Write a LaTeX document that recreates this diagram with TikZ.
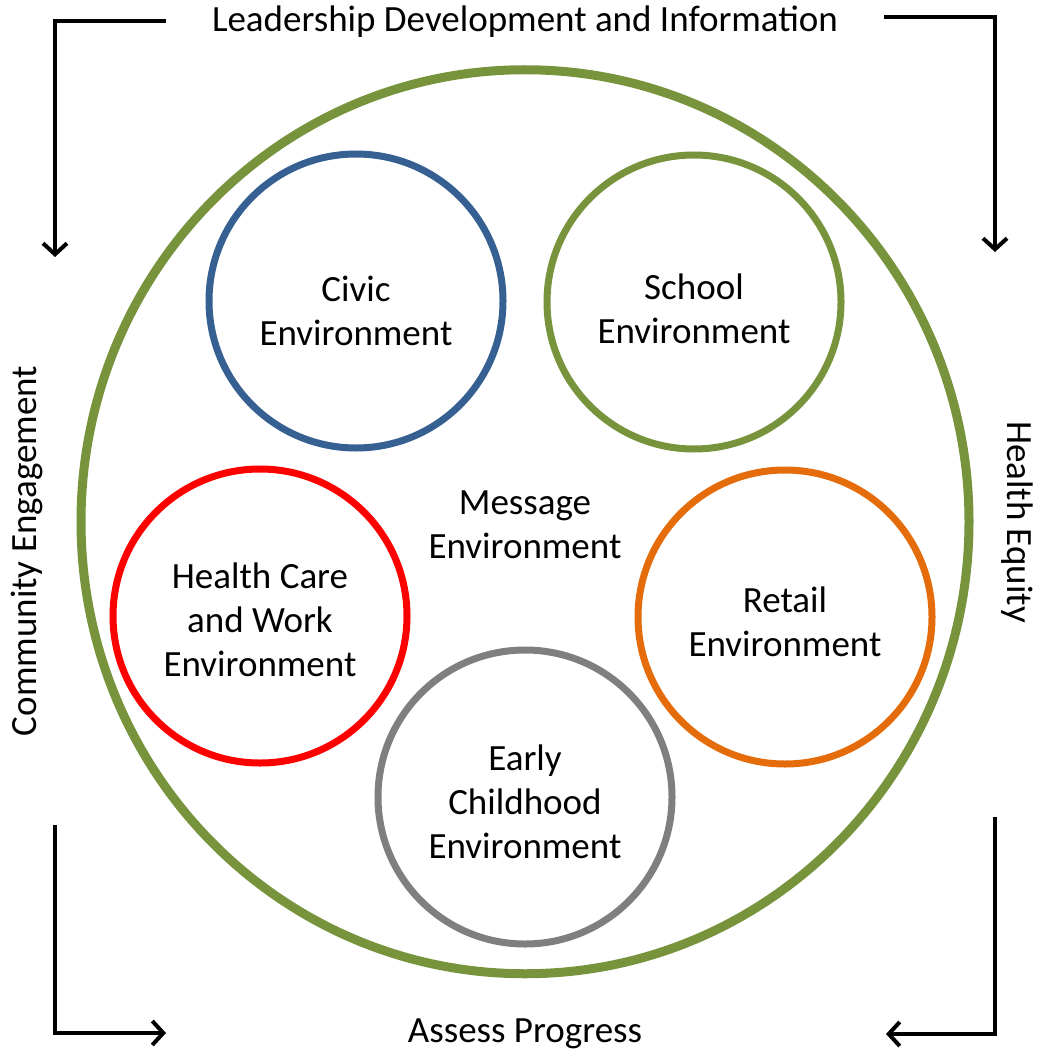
\documentclass[tikz,border=0pt]{standalone}
\usepackage{fontspec}
\setmainfont{Carlito}
\usetikzlibrary{arrows.meta}

\definecolor{ringgreen}{RGB}{119,147,60}
\definecolor{civicblue}{RGB}{55,96,146}
\definecolor{retailorange}{RGB}{228,108,10}
\definecolor{earlygray}{RGB}{127,127,127}

\tikzset{
  envtext/.style={font=\fontsize{37}{44}\selectfont, align=center},
  envring/.style={circle, draw, line width=7pt, minimum size=294pt, inner sep=0pt},
  flow/.style={line width=4pt, -{Straight Barb[length=11pt,width=24pt,line width=4pt]}}
}

\begin{document}
\begin{tikzpicture}[x=1pt,y=-1pt]
                    \useasboundingbox (0,0) rectangle (1048,1051);
                    \draw[draw=ringgreen,line width=9pt] (525,521.75) ellipse (444 and 452);

                    \node[envring,draw=civicblue] (civic) at (356,301) {};
                    \node[envring,draw=ringgreen] (school) at (694,302) {};
                    \node[envring,draw=red] (care) at (260,616) {};
                    \node[envring,draw=retailorange] (retail) at (785,617) {};
                    \node[envring,draw=earlygray] (early) at (525,797) {};
                    \node[envtext] (civic text) at ([yshift=-10pt]civic) {Civic\\Environment};
                    \node[envtext] (school text) at ([yshift=-7pt]school) {School\\Environment};
                    \node[envtext] (care text) at ([yshift=-4pt]care) {Health Care\\and Work\\Environment};
                    \node[envtext] (retail text) at ([yshift=-5pt]retail) {Retail\\Environment};
                    \node[envtext] (early text) at ([yshift=-5pt]early) {Early\\Childhood\\Environment};
                    \node[envtext] (message) at (525,525) {Message\\Environment};

                    \node[envtext,anchor=base] (lead) at (525,32) {Leadership Development and Information};
                    \node[envtext,anchor=base] (assess) at (525,1042) {Assess Progress};
                    \node[envtext,rotate=90] (community) at (27,551) {Community Engagement};
                    \node[envtext,rotate=-90] (equity) at (1017,522) {Health Equity};

                    % corner arrows
                    \coordinate (tl a) at (166,21);
                    \coordinate (tl b) at (55,257);
                    \coordinate (tr a) at (884,17);
                    \coordinate (tr b) at (995,252);
                    \coordinate (bl a) at (55,825);
                    \coordinate (bl b) at (166,1033);
                    \coordinate (br a) at (995,817);
                    \coordinate (br b) at (886,1034);
                    \draw[flow] (tl a) -| (tl b);
                    \draw[flow] (tr a) -| (tr b);
                    \draw[flow] (bl a) |- (bl b);
                    \draw[flow] (br a) |- (br b);
\end{tikzpicture}
\end{document}
